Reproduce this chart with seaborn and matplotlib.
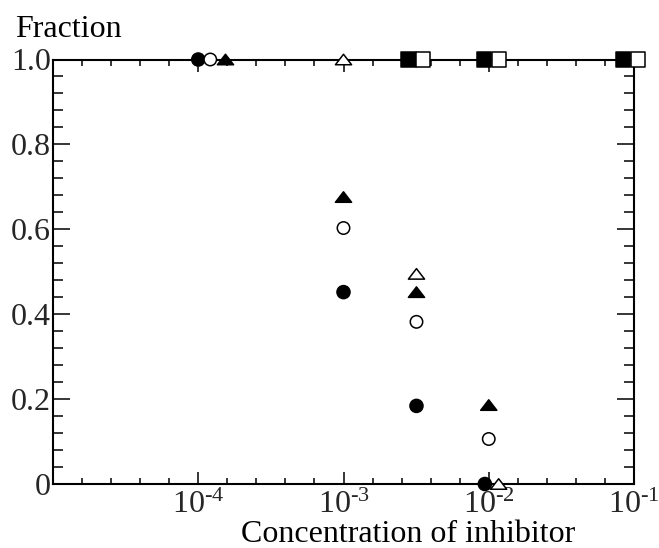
import numpy as np
import pandas as pd
import matplotlib
matplotlib.use("Agg")
import matplotlib.pyplot as plt
import seaborn as sns
from matplotlib.path import Path
from matplotlib.ticker import FixedLocator, FixedFormatter, MultipleLocator, NullFormatter

# ---- data ----
filled_circle_x = [1.0e-4, 1.0e-3, 3.18e-3, 9.4e-3]
filled_circle_y = [1.0, 0.452, 0.184, 0.0]
open_circle_x = [1.21e-4, 1.0e-3, 3.18e-3, 1.0e-2]
open_circle_y = [1.0, 0.603, 0.382, 0.106]
filled_triangle_x = [1.54e-4, 1.0e-3, 3.18e-3, 1.0e-2]
filled_triangle_y = [1.0, 0.676, 0.452, 0.186]
open_triangle_x = [1.0e-3, 3.18e-3, 1.17e-2]
open_triangle_y = [1.0, 0.495, 0.0]
filled_square_x = [2.79e-3, 9.3e-3, 8.4e-2]
filled_square_y = [1.0, 1.0, 1.0]
open_square_x = [3.53e-3, 1.17e-2, 1.07e-1]
open_square_y = [1.0, 1.0, 1.0]

xtick_values = [1e-4, 1e-3, 1e-2, 1e-1]
xtick_labels = [r"$\mathregular{10^{\text{-}4}}$", r"$\mathregular{10^{\text{-}3}}$",
                r"$\mathregular{10^{\text{-}2}}$", r"$\mathregular{10^{\text{-}1}}$"]
ytick_values = [0.0, 0.2, 0.4, 0.6, 0.8, 1.0]
ytick_labels = ["0", "0.2", "0.4", "0.6", "0.8", "1.0"]
x_label = "Concentration of inhibitor"
y_label = "Fraction"

# ---- table ----
series = {
    "filled circle": (filled_circle_x, filled_circle_y),
    "open circle": (open_circle_x, open_circle_y),
    "filled triangle": (filled_triangle_x, filled_triangle_y),
    "open triangle": (open_triangle_x, open_triangle_y),
    "filled square": (filled_square_x, filled_square_y),
    "open square": (open_square_x, open_square_y),
}
rows = []
for name, (xs, ys) in series.items():
    for xv, yv in zip(xs, ys):
        rows.append({"conc": xv, "frac": yv, "series": name})
df = pd.DataFrame(rows)

tri = Path([(-1.0, -0.65), (1.0, -0.65), (0.0, 0.65), (-1.0, -0.65)],
           [Path.MOVETO, Path.LINETO, Path.LINETO, Path.CLOSEPOLY])
markers = {"filled circle": "o", "open circle": "o",
           "filled triangle": tri, "open triangle": tri,
           "filled square": "s", "open square": "s"}
palette = {"filled circle": "black", "open circle": "white",
           "filled triangle": "black", "open triangle": "white",
           "filled square": "black", "open square": "white"}
sizes = {"filled circle": 88, "open circle": 80,
         "filled triangle": 135, "open triangle": 135,
         "filled square": 110, "open square": 105}

sns.set_theme(style="ticks")
plt.rcParams["font.family"] = ["Liberation Serif", "DejaVu Serif"]
plt.rcParams["mathtext.fontset"] = "custom"
plt.rcParams["mathtext.rm"] = "Liberation Serif"
plt.rcParams["mathtext.it"] = "Liberation Serif:italic"

fig = plt.figure(figsize=(6.59, 5.48), dpi=100)
ax = fig.add_axes([53 / 659, 1 - 484 / 548, 581 / 659, 424.5 / 548])

sns.scatterplot(data=df, x="conc", y="frac", hue="series", style="series",
                size="series", sizes=sizes, markers=markers, palette=palette,
                edgecolor="black", linewidth=1.1, legend=False,
                clip_on=False, zorder=3, ax=ax)

ax.set_xscale("log")
ax.set_xlim(1e-5, 1e-1)
ax.set_ylim(0, 1.0)

ax.xaxis.set_major_locator(FixedLocator(xtick_values))
ax.xaxis.set_major_formatter(FixedFormatter(xtick_labels))
minor_x = [10 ** (d + f) for d in range(-5, -1) for f in (0.2, 0.4, 0.6, 0.8)]
ax.xaxis.set_minor_locator(FixedLocator(minor_x))
ax.xaxis.set_minor_formatter(NullFormatter())

ax.yaxis.set_major_locator(FixedLocator(ytick_values))
ax.yaxis.set_major_formatter(FixedFormatter(ytick_labels))
ax.yaxis.set_minor_locator(MultipleLocator(0.04))

ax.tick_params(axis="both", which="both", direction="in", color="black",
               top=True, right=True, width=1.1)
ax.tick_params(axis="x", which="major", length=8.6, pad=5.0, labelsize=23)
ax.tick_params(axis="x", which="minor", length=4.3)
ax.tick_params(axis="y", which="major", length=12.5, pad=1.5, labelsize=23)
ax.tick_params(axis="y", which="minor", length=7.0)

for sp in ax.spines.values():
    sp.set_linewidth(1.5)
    sp.set_color("black")

ax.set_xlabel(x_label, fontsize=23, color="black")
ax.xaxis.label.set_va("baseline")
ax.xaxis.label.set_ha("center")
ax.xaxis.set_label_coords((408 - 53) / 581, (484 - 542) / 424.5)

ax.set_ylabel(y_label, fontsize=23, rotation=0, color="black")
ax.yaxis.label.set_va("baseline")
ax.yaxis.label.set_ha("left")
ax.yaxis.set_label_coords((15 - 53) / 581, (484 - 37) / 424.5)

fig.savefig("out.png", dpi=100)
